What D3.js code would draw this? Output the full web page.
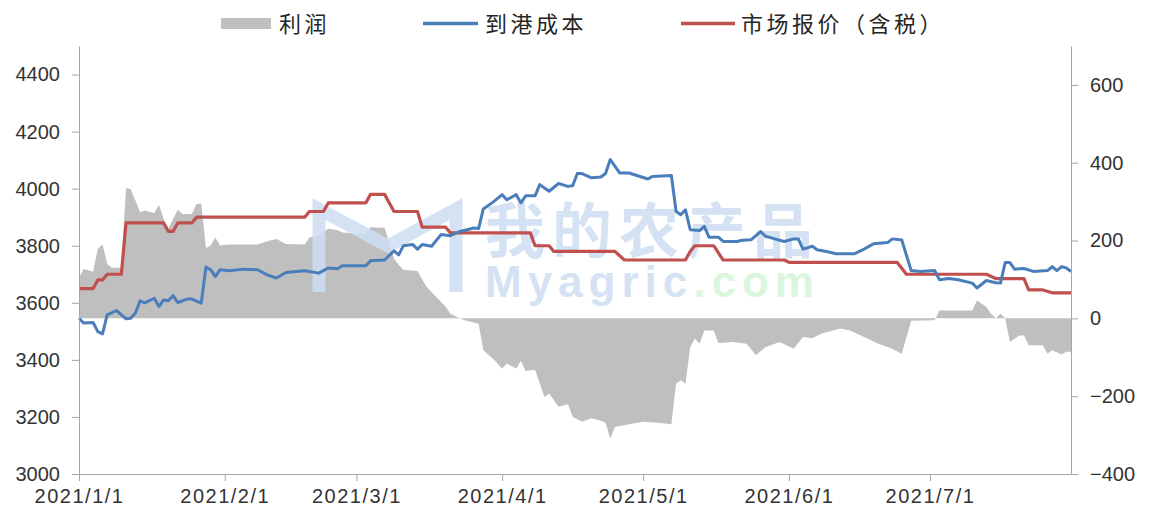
<!DOCTYPE html>
<html>
<head>
<meta charset="utf-8">
<script src="https://cdn.jsdelivr.net/npm/d3@7"></script>
<style>
  body { margin: 0; background: #fff; }
  .tick text { font-family: "Liberation Sans", Arial, sans-serif; }
</style>
</head>
<body>
<div id="chart"></div>
<script>
// series names
var seriesNames = ["利润", "到港成本", "市场报价（含税）"];

// axis tick labels
var xTickLabels = ["2021/1/1", "2021/2/1", "2021/3/1", "2021/4/1", "2021/5/1", "2021/6/1", "2021/7/1"];
var leftTicks = [3000, 3200, 3400, 3600, 3800, 4000, 4200, 4400];
var rightTicks = [-400, -200, 0, 200, 400, 600];

// 利润 (right axis)
var profitDates = ["1/1","1/2","1/4","1/5","1/6","1/7","1/8","1/10","1/11","1/12","1/13","1/14","1/15","1/17","1/18","1/19","1/20","1/22","1/23","1/25","1/26","1/27","1/28","1/29","1/30","1/31","2/2","2/8","2/10","2/12","2/14","2/18","2/19","2/21","2/23","2/25","2/26","3/3","3/4","3/7","3/9","3/10","3/11","3/14","3/15","3/16","3/18","3/20","3/21","3/23","3/24","3/27","3/28","3/30","4/1","4/2","4/4","4/5","4/6","4/8","4/10","4/11","4/13","4/15","4/16","4/18","4/20","4/22","4/23","4/24","4/25","4/28","5/1","5/4","5/7","5/8","5/9","5/10","5/11","5/12","5/13","5/14","5/16","5/17","5/20","5/23","5/25","5/27","5/30","6/2","6/4","6/6","6/8","6/12","6/14","6/17","6/20","6/23","6/25","6/27","7/2","7/3","7/10","7/11","7/13","7/14","7/15","7/16","7/17","7/18","7/20","7/21","7/22","7/25","7/26","7/27","7/29","7/30","7/31"];
var profitValues = [105,127,120,179,190,140,130,130,335,332,303,273,277,270,292,256,230,279,268,268,294,295,181,187,208,187,190,190,198,204,191,190,208,213,230,227,221,217,234,233,153,138,125,122,100,80,55,30,12,0,-5,-14,-82,-103,-129,-116,-129,-109,-135,-132,-202,-193,-227,-221,-253,-266,-257,-263,-268,-309,-279,-272,-266,-268,-272,-168,-159,-168,-74,-52,-65,-31,-31,-63,-61,-65,-95,-74,-61,-78,-48,-51,-39,-26,-31,-48,-65,-78,-91,-6,-5,20,20,46,29,12,0,12,0,-61,-44,-44,-69,-69,-91,-82,-93,-86,-86];

// 到港成本 (left axis)
var costDates = ["1/1","1/2","1/4","1/5","1/6","1/7","1/9","1/11","1/12","1/13","1/14","1/15","1/17","1/18","1/19","1/20","1/21","1/22","1/24","1/25","1/27","1/28","1/29","1/30","1/31","2/2","2/5","2/8","2/10","2/12","2/14","2/18","2/21","2/23","2/25","2/26","3/3","3/4","3/7","3/9","3/10","3/11","3/13","3/14","3/15","3/17","3/19","3/21","3/23","3/26","3/27","3/28","3/30","4/1","4/2","4/4","4/5","4/6","4/8","4/9","4/11","4/13","4/15","4/16","4/17","4/18","4/20","4/22","4/23","4/24","4/26","4/28","5/2","5/3","5/7","5/8","5/9","5/10","5/11","5/13","5/14","5/15","5/17","5/18","5/21","5/22","5/24","5/26","5/27","5/29","5/31","6/2","6/3","6/4","6/6","6/7","6/9","6/11","6/15","6/17","6/19","6/22","6/23","6/25","6/27","6/29","7/2","7/3","7/5","7/7","7/10","7/11","7/13","7/15","7/16","7/17","7/18","7/19","7/21","7/23","7/26","7/27","7/28","7/29","7/30","7/31"];
var costValues = [3546,3529,3531,3499,3491,3558,3573,3544,3546,3564,3607,3600,3616,3587,3610,3607,3625,3601,3613,3613,3599,3725,3716,3692,3716,3712,3718,3716,3698,3687,3706,3712,3704,3722,3719,3730,3730,3747,3750,3782,3768,3800,3804,3788,3804,3798,3839,3835,3850,3862,3860,3929,3952,3979,3961,3979,3950,3975,3975,4014,3991,4018,4008,4010,4053,4053,4038,4041,4053,4102,4055,4055,4034,4043,4046,3920,3909,3926,3856,3853,3868,3830,3830,3815,3815,3819,3821,3850,3833,3824,3815,3824,3824,3788,3798,3786,3780,3772,3772,3788,3807,3811,3824,3820,3713,3710,3713,3681,3685,3681,3669,3652,3678,3670,3669,3741,3741,3718,3720,3710,3713,3727,3713,3727,3722,3710];

// 市场报价（含税） (left axis)
var priceDates = ["1/1","1/4","1/5","1/6","1/7","1/10","1/11","1/19","1/20","1/21","1/22","1/25","1/26","2/18","2/19","2/22","2/23","3/3","3/4","3/7","3/9","3/14","3/15","3/20","3/21","4/7","4/8","4/11","4/12","4/25","4/27","5/10","5/11","5/12","5/16","5/18","5/31","6/1","6/24","6/26","7/13","7/15","7/21","7/22","7/25","7/27","7/31"];
var priceValues = [3650,3650,3680,3680,3700,3700,3880,3880,3850,3850,3880,3880,3900,3900,3920,3920,3950,3950,3980,3980,3920,3920,3865,3865,3845,3845,3800,3800,3780,3780,3750,3750,3780,3800,3800,3750,3750,3742,3742,3700,3700,3685,3685,3645,3645,3635,3635];

(function () {
  var W = 1150, H = 510;
  var plotLeft = 79, plotRight = 1071, plotTop = 46, plotBottom = 474;
  var axisColor = "#a6a6a6";
  var textColor = "#333333";
  var wmBlue = "#cddef3";

  var parse = d3.timeParse("%Y/%m/%d");
  function toDate(s) { return parse("2021/" + s); }

  var profit = profitDates.map(function (d, i) { return {date: toDate(d), value: profitValues[i]}; });
  var cost = costDates.map(function (d, i) { return {date: toDate(d), value: costValues[i]}; });
  var price = priceDates.map(function (d, i) { return {date: toDate(d), value: priceValues[i]}; });

  var x = d3.scaleTime().domain([parse("2021/1/1"), parse("2021/7/31")]).range([plotLeft, plotRight]);
  var yL = d3.scaleLinear().domain([3000, 4500]).range([plotBottom, plotTop]);
  var yR = d3.scaleLinear().domain([-400, 700]).range([plotBottom, plotTop]);

  var svg = d3.select("#chart").append("svg")
    .attr("width", W)
    .attr("height", H);

  // Profit area, right axis.
  var area = d3.area()
    .x(function (d) { return x(d.date); })
    .y0(yR(0))
    .y1(function (d) { return yR(d.value); });

  svg.append("path")
    .datum(profit)
    .attr("d", area)
    .attr("fill", "#bfbfbf");

  // Watermark.
  var wm = svg.append("g").attr("opacity", 0.85);
  wm.append("path")
    .attr("d", "M319,292 L319,209 L388,246 L456,209 L456,292")
    .attr("fill", "none")
    .attr("stroke", wmBlue)
    .attr("stroke-width", 13);
  wm.append("text")
    .attr("x", 485).attr("y", 253)
    .attr("font-family", "Noto Sans CJK SC")
    .attr("font-weight", "bold")
    .attr("font-size", 60)
    .attr("letter-spacing", 7)
    .attr("fill", wmBlue)
    .attr("stroke", "#fff").attr("stroke-width", 3).attr("paint-order", "stroke")
    .text("我的农产品");
  var wmText = wm.append("text")
    .attr("x", 485).attr("y", 297)
    .attr("font-family", "Liberation Sans, Arial, sans-serif")
    .attr("font-weight", "bold")
    .attr("font-size", 44)
    .attr("letter-spacing", 6)
    .attr("stroke", "#fff").attr("stroke-width", 3).attr("paint-order", "stroke");
  wmText.append("tspan").attr("fill", wmBlue).text("Myagric");
  wmText.append("tspan").attr("fill", "#d6f5d8").text(".com");

  // Lines, left axis.
  var line = d3.line()
    .x(function (d) { return x(d.date); })
    .y(function (d) { return yL(d.value); });

  svg.append("path")
    .datum(price)
    .attr("d", line)
    .attr("fill", "none")
    .attr("stroke", "#c0504d")
    .attr("stroke-width", 3.2)
    .attr("stroke-linejoin", "round");

  svg.append("path")
    .datum(cost)
    .attr("d", line)
    .attr("fill", "none")
    .attr("stroke", "#4a7ebb")
    .attr("stroke-width", 3)
    .attr("stroke-linejoin", "round");

  // Axes.
  function styleAxis(g) {
    g.selectAll(".domain").attr("stroke", axisColor);
    g.selectAll(".tick line").attr("stroke", axisColor);
    g.selectAll(".tick text").attr("fill", textColor).attr("font-size", 20);
  }

  svg.append("g")
    .attr("transform", "translate(" + plotLeft + ",0)")
    .call(d3.axisLeft(yL).tickValues(leftTicks).tickSize(7).tickSizeOuter(0).tickPadding(12).tickFormat(d3.format("d")))
    .call(styleAxis);

  svg.append("g")
    .attr("transform", "translate(" + plotRight + ",0)")
    .call(d3.axisRight(yR).tickValues(rightTicks).tickSize(7).tickSizeOuter(0).tickPadding(12))
    .call(styleAxis);

  svg.append("g")
    .attr("transform", "translate(0," + plotBottom + ")")
    .call(d3.axisBottom(x)
      .tickValues(xTickLabels.map(function (s) { return parse(s); }))
      .tickSize(7).tickSizeOuter(0).tickPadding(8)
      .tickFormat(function (d, i) { return xTickLabels[i]; }))
    .call(styleAxis)
    .call(function (g) { g.selectAll(".tick text").attr("letter-spacing", 1.5); });

  // Legend.
  var legend = svg.append("g")
    .attr("font-family", "Noto Sans CJK SC")
    .attr("font-size", 22)
    .attr("fill", "#262626");

  legend.append("rect")
    .attr("x", 221).attr("y", 18).attr("width", 50).attr("height", 11)
    .attr("fill", "#bfbfbf");
  legend.append("line")
    .attr("x1", 423).attr("x2", 478).attr("y1", 23.5).attr("y2", 23.5)
    .attr("stroke", "#4a7ebb").attr("stroke-width", 3.5);
  legend.append("line")
    .attr("x1", 681).attr("x2", 735).attr("y1", 23.5).attr("y2", 23.5)
    .attr("stroke", "#c0504d").attr("stroke-width", 3.5);

  var legendX = [279, 485, 741];
  seriesNames.forEach(function (name, i) {
    legend.append("text")
      .attr("x", legendX[i])
      .attr("y", 24)
      .attr("dy", "0.36em")
      .attr("letter-spacing", 3.5)
      .text(name);
  });
})();
</script>
</body>
</html>
